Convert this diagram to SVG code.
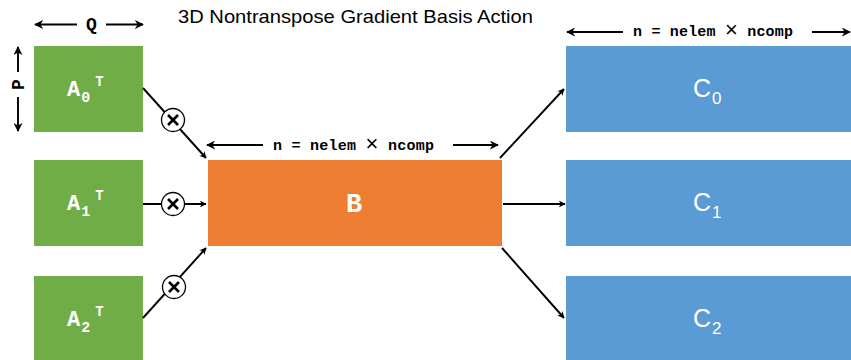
<svg xmlns="http://www.w3.org/2000/svg" width="851" height="360" viewBox="0 0 851 360">
<style>
.title{font-family:"Liberation Sans",Arial,sans-serif;font-size:19px;fill:#000}
.dim{font-family:"Liberation Mono","Courier New",monospace;font-weight:bold;font-size:15px;fill:#000}
.qp{font-family:"Liberation Mono","Courier New",monospace;font-weight:bold;font-size:18px;fill:#000}
.x{font-family:"Liberation Sans",Arial,sans-serif;font-weight:normal;font-size:22px}
.ga{fill:#70AD47}
.ob{fill:#ED7D31}
.bc{fill:#5B9BD5}
.ml{font-family:"Liberation Mono","Courier New",monospace;font-weight:bold;fill:#fff}
.sl{font-family:"Liberation Sans",Arial,sans-serif;fill:#fff}
.ln{stroke:#000;stroke-width:1.9;fill:none}
.cr{fill:#fff;stroke:#000;stroke-width:1.3}
.cx{stroke:#000;stroke-width:2.6;fill:none}
</style>
<defs>
<marker id="ah" viewBox="0 0 10 10" refX="9" refY="5" markerWidth="7" markerHeight="7" markerUnits="userSpaceOnUse" orient="auto">
<path d="M0,0 L10,5 L0,10 L3,5 z" fill="#000"/>
</marker>
<marker id="ah2" viewBox="0 0 10 10" refX="9" refY="5" markerWidth="9" markerHeight="9" markerUnits="userSpaceOnUse" orient="auto">
<path d="M0,0 L10,5 L0,10 L3,5 z" fill="#000"/>
</marker>
</defs>
<text class="title" x="178" y="22.5" textLength="355" lengthAdjust="spacingAndGlyphs">3D Nontranspose Gradient Basis Action</text>

<g id="dimensions">
<line class="ln" x1="77" y1="24.5" x2="35" y2="24.5" marker-end="url(#ah2)"/>
<line class="ln" x1="106" y1="24.5" x2="143" y2="24.5" marker-end="url(#ah2)"/>
<text class="qp" x="91.5" y="29.5" text-anchor="middle">Q</text>
<line class="ln" x1="18" y1="72" x2="18" y2="47" marker-end="url(#ah2)"/>
<line class="ln" x1="18" y1="97" x2="18" y2="131" marker-end="url(#ah2)"/>
<text class="qp" transform="translate(23.5,84.5) rotate(-90)" text-anchor="middle">P</text>
<line class="ln" x1="263" y1="145" x2="207" y2="145" marker-end="url(#ah2)"/>
<line class="ln" x1="453" y1="145" x2="498" y2="145" marker-end="url(#ah2)"/>
<text class="dim" x="273" y="149.5" textLength="161" lengthAdjust="spacing">n = nelem <tspan class="x" dy="1">×</tspan><tspan dy="-1"> ncomp</tspan></text>
<line class="ln" x1="623" y1="32" x2="567" y2="32" marker-end="url(#ah2)"/>
<line class="ln" x1="812" y1="32" x2="850" y2="32" marker-end="url(#ah2)"/>
<text class="dim" x="633" y="36" textLength="160" lengthAdjust="spacing">n = nelem <tspan class="x" dy="1">×</tspan><tspan dy="-1"> ncomp</tspan></text>
</g>

<g id="A0">
<rect class="ga" x="34" y="46" width="109" height="86"/>
<text class="ml" x="67" y="96" font-size="22">A<tspan font-size="15" dx="1" dy="6">0</tspan><tspan font-size="14" dx="5" dy="-16">T</tspan></text>
</g>
<g id="A1">
<rect class="ga" x="34" y="160" width="109" height="86"/>
<text class="ml" x="67" y="210" font-size="22">A<tspan font-size="15" dx="1" dy="6">1</tspan><tspan font-size="14" dx="5" dy="-16">T</tspan></text>
</g>
<g id="A2">
<rect class="ga" x="34" y="276" width="109" height="86"/>
<text class="ml" x="67" y="326" font-size="22">A<tspan font-size="15" dx="1" dy="6">2</tspan><tspan font-size="14" dx="5" dy="-16">T</tspan></text>
</g>

<g id="B">
<rect class="ob" x="208" y="160" width="294" height="86"/>
<text class="ml" x="354" y="212" font-size="27" text-anchor="middle">B</text>
</g>

<g id="C0">
<rect class="bc" x="566" y="46" width="285" height="86"/>
<text class="sl" x="693" y="96.5" font-size="25">C<tspan font-size="17" dx="1" dy="7.5">0</tspan></text>
</g>
<g id="C1">
<rect class="bc" x="566" y="160" width="285" height="86"/>
<text class="sl" x="693" y="210.5" font-size="25">C<tspan font-size="17" dx="1" dy="7.5">1</tspan></text>
</g>
<g id="C2">
<rect class="bc" x="566" y="276" width="285" height="86"/>
<text class="sl" x="693" y="326.5" font-size="25">C<tspan font-size="17" dx="1" dy="7.5">2</tspan></text>
</g>

<g id="connectors">
<line class="ln" x1="143" y1="88" x2="206" y2="158" marker-end="url(#ah)"/>
<line class="ln" x1="143" y1="204" x2="206" y2="204" marker-end="url(#ah)"/>
<line class="ln" x1="143" y1="318" x2="206" y2="248" marker-end="url(#ah)"/>
<line class="ln" x1="500" y1="158" x2="564" y2="89" marker-end="url(#ah)"/>
<line class="ln" x1="503" y1="204" x2="565" y2="204" marker-end="url(#ah)"/>
<line class="ln" x1="502" y1="248" x2="564" y2="318" marker-end="url(#ah)"/>
<g id="mul0"><circle class="cr" cx="173" cy="120" r="11.5"/><path class="cx" d="M168,115 L178,125 M178,115 L168,125"/></g>
<g id="mul1"><circle class="cr" cx="173" cy="204" r="11.5"/><path class="cx" d="M168,199 L178,209 M178,199 L168,209"/></g>
<g id="mul2"><circle class="cr" cx="174" cy="287" r="11.5"/><path class="cx" d="M169,282 L179,292 M179,282 L169,292"/></g>
</g>
</svg>
